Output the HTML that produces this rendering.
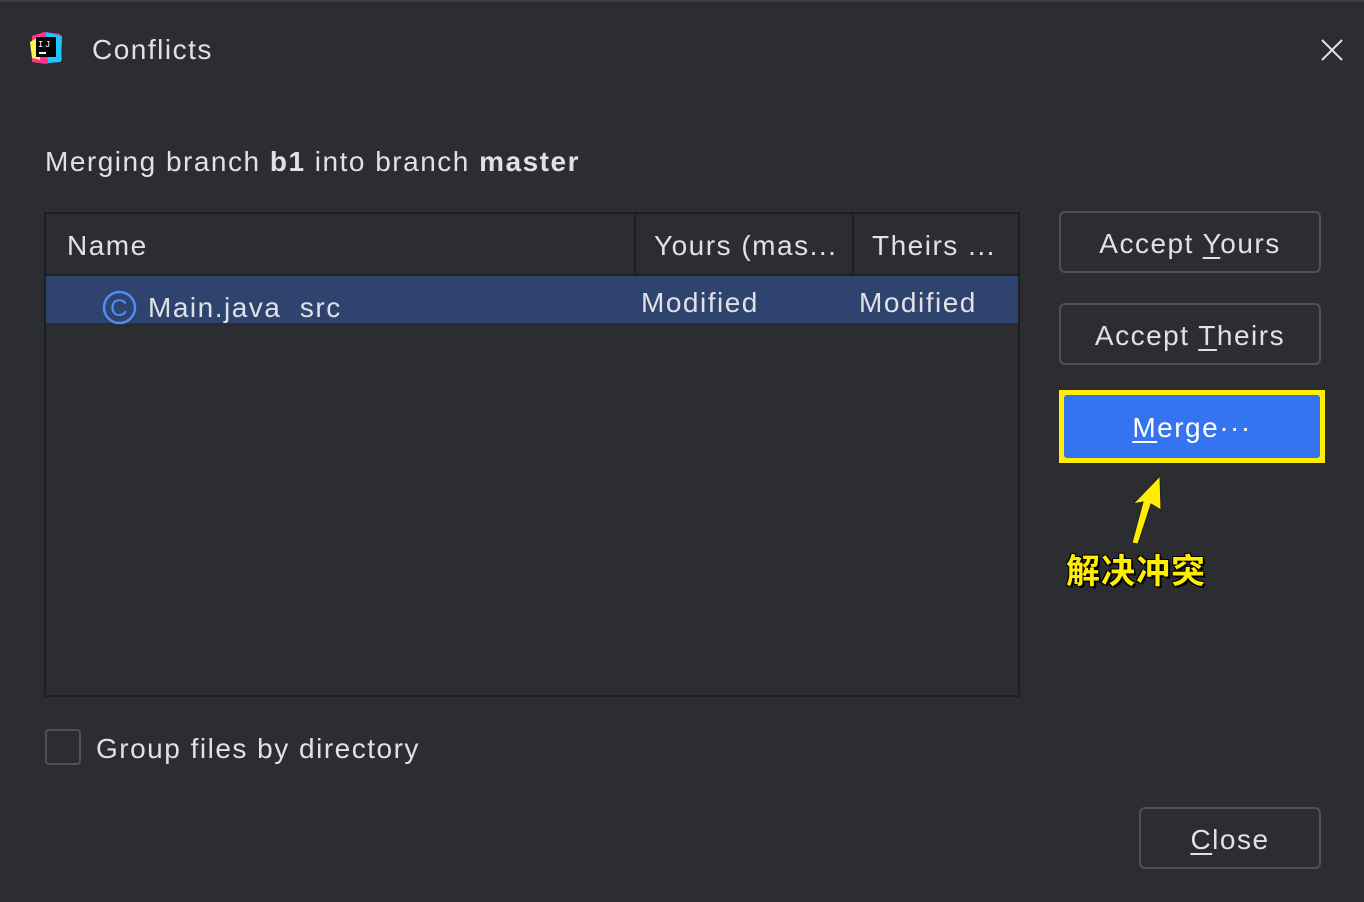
<!DOCTYPE html>
<html><head><meta charset="utf-8"><style>
body{margin:0;width:1364px;height:902px;background:#2b2d30;overflow:hidden;font-family:"Liberation Sans","Noto Sans CJK SC",sans-serif;color:#dfe1e5;position:relative}
.a{position:absolute;white-space:nowrap;letter-spacing:1.5px;font-size:28px}
.btn{position:absolute;border:2px solid #4e5157;border-radius:6px;box-sizing:border-box;text-align:center;font-size:28px;letter-spacing:1.5px;color:#dfe1e5}
u{text-decoration-thickness:2px;text-underline-offset:4px}
</style></head><body>
<div class="a" style="left:0;top:0;width:1364px;height:2px;background:#3c3f41"></div>
<svg class="a" style="left:30px;top:32px" width="33" height="32">
<polygon points="2,4 14,0 30,2 32,28 16,32 2,30" fill="#ff318c"/>
<polygon points="16,0 32,4 31,30 18,31" fill="#21c3ff"/>
<polygon points="0,10 10,4 10,28 2,26" fill="#fcf84a"/>
<rect x="6" y="5" width="20" height="20" fill="#000"/>
<text x="8" y="15" font-size="9" fill="#fff" font-family="Liberation Mono">IJ</text>
<rect x="9" y="20" width="7" height="2" fill="#fff"/>
</svg>
<div class="a" style="left:92px;top:34px">Conflicts</div>
<svg class="a" style="left:1321px;top:39px" width="22" height="22"><path d="M1,1L21,21M21,1L1,21" stroke="#dfe1e5" stroke-width="2"/></svg>
<div class="a" style="left:45px;top:146px">Merging branch <b>b1</b> into branch <b>master</b></div>
<div class="a" style="left:44px;top:212px;width:972px;height:481px;border:2px solid #1e1f22;background:#2b2d30"></div>
<div class="a" style="left:46px;top:274px;width:972px;height:2px;background:#1e1f22"></div>
<div class="a" style="left:634px;top:214px;width:2px;height:60px;background:#1e1f22"></div>
<div class="a" style="left:852px;top:214px;width:2px;height:60px;background:#1e1f22"></div>
<div class="a" style="left:67px;top:230px">Name</div>
<div class="a" style="left:654px;top:230px">Yours (mas...</div>
<div class="a" style="left:872px;top:230px">Theirs ...</div>
<div class="a" style="left:46px;top:276px;width:972px;height:47px;background:#2e436e"></div>
<svg class="a" style="left:102px;top:290px" width="36" height="36"><circle cx="17.5" cy="17.5" r="15.5" fill="none" stroke="#548af7" stroke-width="2.5"/><text x="17.5" y="26" text-anchor="middle" font-size="24" fill="#548af7" font-family="Liberation Sans">C</text></svg>
<div class="a" style="left:148px;top:292px">Main.java&nbsp; src</div>
<div class="a" style="left:641px;top:287px">Modified</div>
<div class="a" style="left:859px;top:287px">Modified</div>
<div class="btn" style="left:1059px;top:211px;width:262px;height:62px;line-height:62px">Accept <u>Y</u>ours</div>
<div class="btn" style="left:1059px;top:303px;width:262px;height:62px;line-height:62px">Accept <u>T</u>heirs</div>
<div class="a" style="left:1059px;top:390px;width:266px;height:73px;background:#ffee00"></div>
<div class="a" style="left:1064px;top:395px;width:256px;height:63px;background:#3574f0;border-radius:3px;text-align:center;line-height:66px;color:#fff"><u>M</u>erge···</div>
<svg class="a" style="left:1125px;top:472px" width="44" height="75"><polygon points="7,71 18,30 8,32 35,4 36,38 26,32 13,72" fill="#ffee00" stroke="#222" stroke-width="1"/></svg>
<div class="a" style="left:1066px;top:544px;font-size:34px;letter-spacing:1px;font-weight:bold;color:#ffee00;text-shadow:2px 2px 0 #000,-1px -1px 0 #000,1px -1px 0 #000,-1px 1px 0 #000">解决冲突</div>
<div class="a" style="left:45px;top:729px;width:32px;height:32px;border:2px solid #4e5157;border-radius:4px"></div>
<div class="a" style="left:96px;top:733px">Group files by directory</div>
<div class="btn" style="left:1139px;top:807px;width:182px;height:62px;line-height:62px"><u>C</u>lose</div>
</body></html>
